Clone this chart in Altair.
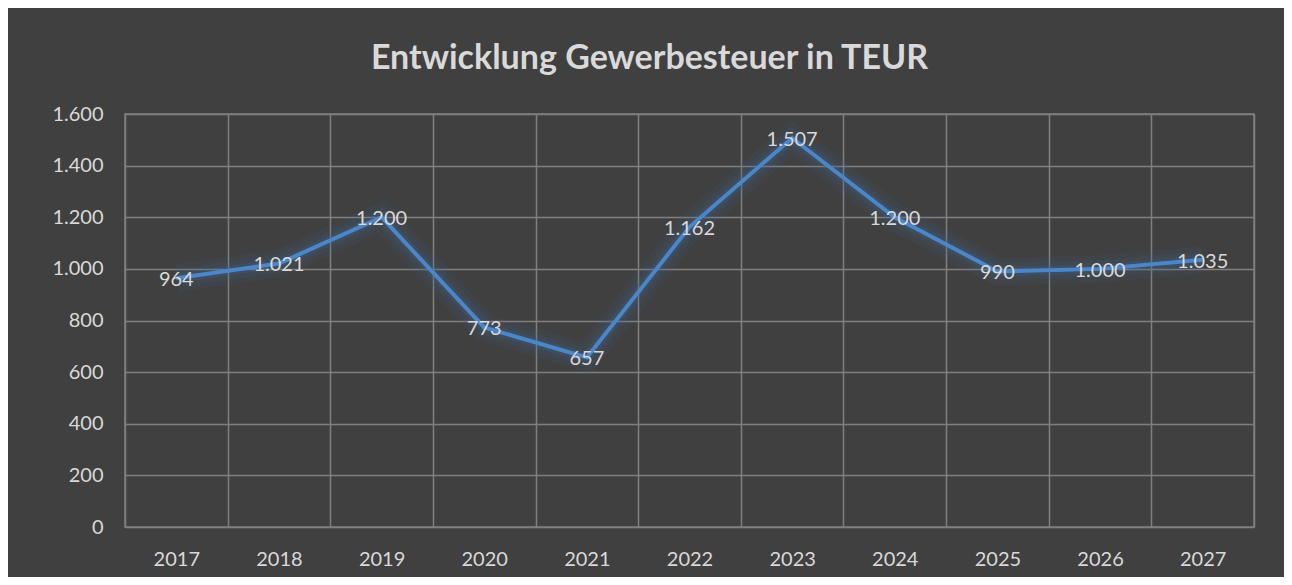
import altair as alt
import pandas as pd

years = ["2017", "2018", "2019", "2020", "2021", "2022", "2023", "2024", "2025", "2026", "2027"]
values = [964, 1021, 1200, 773, 657, 1162, 1507, 1200, 990, 1000, 1035]
y_ticks = [0, 200, 400, 600, 800, 1000, 1200, 1400, 1600]

df = pd.DataFrame({"Jahr": years, "Wert": values})
df["Label"] = [f"{v:,}".replace(",", ".") for v in values]

FONT = "Lato"
TXT = "#d9d9d9"

x = alt.X("Jahr:N", sort=years, title=None,
          scale=alt.Scale(paddingInner=0, paddingOuter=0),
          axis=alt.Axis(tickBand="extent", grid=True, gridColor="#7f7f7f", gridWidth=1.5,
                        domain=False, ticks=False, labelAngle=0, labelPadding=22,
                        labelFontSize=20, labelColor=TXT, labelFont=FONT))
y = alt.Y("Wert:Q", title=None,
          scale=alt.Scale(domain=[0, 1600], nice=False),
          axis=alt.Axis(values=y_ticks, grid=True, gridColor="#7f7f7f", gridWidth=1.5,
                        domain=False, ticks=False, labelPadding=22,
                        labelFontSize=20, labelColor=TXT, labelFont=FONT,
                        labelExpr="replace(format(datum.value, ','), ',', '.')"))

base = alt.Chart(df)
glow1 = base.mark_line(color="#3d6a9e", strokeWidth=28, opacity=0.08).encode(x=x, y=y)
glow2 = base.mark_line(color="#3d6a9e", strokeWidth=18, opacity=0.12).encode(x=x, y=y)
glow3 = base.mark_line(color="#3d6a9e", strokeWidth=10, opacity=0.18).encode(x=x, y=y)
line = base.mark_line(color="#4a86c8", strokeWidth=4).encode(x=x, y=y)
labels = base.mark_text(fontSize=20, font=FONT, color=TXT, baseline="middle", dy=2).encode(
    x=x, y=y, text="Label:N")

chart = (glow1 + glow2 + glow3 + line + labels).properties(
    width=1129, height=413,
    background="#404040",
    autosize=alt.AutoSizeParams(type="none"),
    padding={"left": 117, "top": 106, "right": 30, "bottom": 50},
    title=alt.TitleParams("Entwicklung Gewerbesteuer in TEUR", fontSize=34, font=FONT,
                          fontWeight="bold", color=TXT, anchor="middle", dx=-40, offset=6),
).configure_view(stroke="#7f7f7f", strokeWidth=1.5)

chart.save("out.html", embed_options={"renderer": "svg", "actions": False})
